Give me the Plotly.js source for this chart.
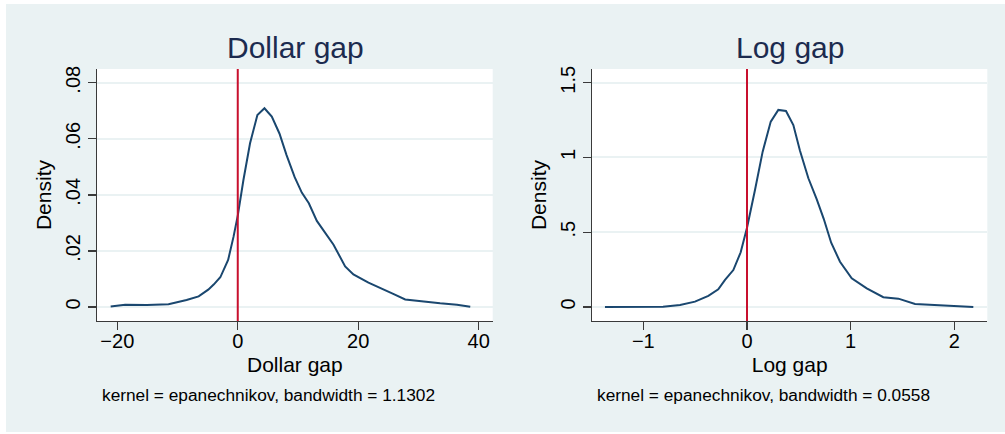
<!DOCTYPE html>
<html>
<head>
<meta charset="utf-8">
<script src="https://cdn.plot.ly/plotly-3.0.1.min.js"></script>
<style>
  html, body { margin: 0; padding: 0; background: #ffffff; width: 1005px; height: 434px; overflow: hidden; }
  #chart { position: absolute; left: 6px; top: 4px; width: 999px; height: 428px; }
</style>
</head>
<body>
<div id="chart"></div>
<script>
// ---- Dollar gap density (kernel = epanechnikov, bw = 1.1302)
const dollarX = [-21.1, -18.7, -15.1, -11.5, -8.5, -6.5, -4.9, -4.0, -2.9, -1.6, -0.7, 0.0, 0.94, 2.04, 3.26, 4.43, 5.65, 6.92, 8.1, 9.45, 10.63, 11.8, 13.13, 14.5, 15.9, 17.83, 19.2, 21.7, 24.2, 25.9, 27.8, 30.85, 33.6, 36.4, 38.6];
const dollarY = [0.0002, 0.0008, 0.0007, 0.0010, 0.0025, 0.0038, 0.0062, 0.0080, 0.0106, 0.0168, 0.0251, 0.0326, 0.0453, 0.0584, 0.0685, 0.0709, 0.0679, 0.0619, 0.0542, 0.0463, 0.0408, 0.0370, 0.0307, 0.0263, 0.0222, 0.0145, 0.0116, 0.0087, 0.0061, 0.0046, 0.0027, 0.0019, 0.0013, 0.0008, 0.0001];

// ---- Log gap density (kernel = epanechnikov, bw = 0.0558)
const logX = [-1.37, -1.13, -0.81, -0.646, -0.502, -0.373, -0.277, -0.212, -0.132, -0.061, 0.0, 0.077, 0.151, 0.229, 0.302, 0.376, 0.447, 0.511, 0.592, 0.672, 0.74, 0.812, 0.897, 1.01, 1.155, 1.315, 1.46, 1.621, 1.813, 1.975, 2.183];
const logY = [0.0, 0.002, 0.002, 0.013, 0.036, 0.075, 0.118, 0.181, 0.247, 0.366, 0.53, 0.783, 1.039, 1.240, 1.318, 1.311, 1.217, 1.045, 0.861, 0.722, 0.59, 0.43, 0.303, 0.192, 0.125, 0.066, 0.056, 0.020, 0.013, 0.007, 0.0];

// ---- axis ticks and texts
const dollarTickVals = [-20, 0, 20, 40];
const dollarTickText = ["\u221220", "0", "20", "40"];
const dollarYTickVals = [0, 0.02, 0.04, 0.06, 0.08];
const dollarYTickText = ["0", ".02", ".04", ".06", ".08"];
const logTickVals = [-1, 0, 1, 2];
const logTickText = ["\u22121", "0", "1", "2"];
const logYTickVals = [0, 0.5, 1, 1.5];
const logYTickText = ["0", ".5", "1", "1.5"];
const panelTitles = ["Dollar gap", "Log gap"];
const xTitles = ["Dollar gap", "Log gap"];
const yTitle = "Density";
const notes = ["kernel = epanechnikov, bandwidth = 1.1302", "kernel = epanechnikov, bandwidth = 0.0558"];
const refLineX = 0;

const FONT = "Liberation Sans, Arial, Helvetica, sans-serif";
const LINE = "#1a476f";
const AXC = "#3a3a3a";
const GRID = "#eaf2f3";

const traces = [
  { x: dollarX, y: dollarY, type: "scatter", mode: "lines", line: { color: LINE, width: 2 }, xaxis: "x", yaxis: "y", hoverinfo: "skip" },
  { x: logX, y: logY, type: "scatter", mode: "lines", line: { color: LINE, width: 2 }, xaxis: "x2", yaxis: "y2", hoverinfo: "skip" }
];

function xax(domain, range, vals, text, title) {
  return {
    domain: domain, range: range, tickmode: "array", tickvals: vals, ticktext: text,
    showgrid: false, zeroline: false, showline: true, linecolor: AXC, linewidth: 1.3,
    ticks: "outside", ticklen: 8, tickwidth: 1.3, tickcolor: AXC,
    ticklabelstandoff: -6,
    tickfont: { family: FONT, size: 20, color: "#000" },
    title: { text: title, font: { family: FONT, size: 21, color: "#000" }, standoff: 6 },
    fixedrange: true
  };
}
function yax(domain, range, vals, text, anchor) {
  return {
    domain: domain, range: range, anchor: anchor, tickmode: "array", tickvals: vals, ticktext: text,
    showgrid: true, gridcolor: GRID, gridwidth: 2, zeroline: false, showline: true, linecolor: AXC, linewidth: 1.3,
    ticks: "outside", ticklen: 8, tickwidth: 1.3, tickcolor: AXC, tickangle: -90,
    tickfont: { family: FONT, size: 20, color: "#000" },
    title: { text: yTitle, font: { family: FONT, size: 21, color: "#000" }, standoff: 4 },
    fixedrange: true
  };
}

const yDom = [0.2593, 0.8481];
const layout = {
  width: 999, height: 428,
  margin: { l: 0, r: 0, t: 0, b: 0 },
  paper_bgcolor: "#eaf2f3", plot_bgcolor: "#ffffff",
  showlegend: false,
  xaxis: Object.assign(xax([0.0911, 0.4872], [-23.37, 42.33], dollarTickVals, dollarTickText, xTitles[0]), { anchor: "y" }),
  yaxis: yax(yDom, [-0.005, 0.0849], dollarYTickVals, dollarYTickText, "x"),
  xaxis2: Object.assign(xax([0.5866, 0.9823], [-1.495, 2.318], logTickVals, logTickText, xTitles[1]), { anchor: "y2" }),
  yaxis2: yax(yDom, [-0.0936, 1.5916], logYTickVals, logYTickText, "x2"),
  shapes: [
    { type: "line", xref: "x", yref: "paper", x0: refLineX, x1: refLineX, y0: yDom[0], y1: yDom[1], line: { color: "#c8102e", width: 2 }, layer: "above" },
    { type: "line", xref: "x2", yref: "paper", x0: refLineX, x1: refLineX, y0: yDom[0], y1: yDom[1], line: { color: "#c8102e", width: 2 }, layer: "above" }
  ],
  annotations: [
    { text: panelTitles[0], xref: "paper", yref: "paper", x: 0.2893, y: 0.8972, xanchor: "center", yanchor: "middle", showarrow: false, font: { family: FONT, size: 30, color: "#1c2b4f" } },
    { text: panelTitles[1], xref: "paper", yref: "paper", x: 0.7845, y: 0.8972, xanchor: "center", yanchor: "middle", showarrow: false, font: { family: FONT, size: 30, color: "#1c2b4f" } },
    { text: notes[0], xref: "paper", yref: "paper", x: 0.0941, y: 0.0864, xanchor: "left", yanchor: "middle", showarrow: false, font: { family: FONT, size: 17.3, color: "#000" } },
    { text: notes[1], xref: "paper", yref: "paper", x: 0.5893, y: 0.0864, xanchor: "left", yanchor: "middle", showarrow: false, font: { family: FONT, size: 17.3, color: "#000" } }
  ]
};

Plotly.newPlot("chart", traces, layout, { staticPlot: true, displayModeBar: false });
</script>
</body>
</html>
